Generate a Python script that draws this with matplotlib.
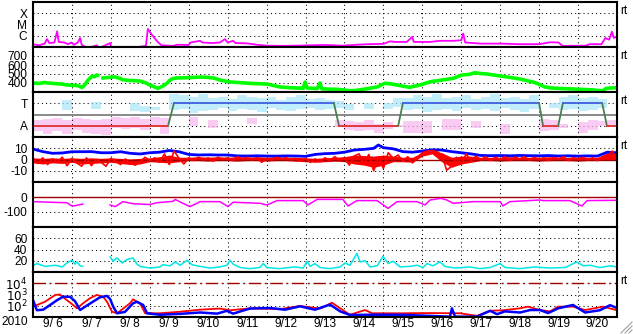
import numpy as np
import matplotlib
matplotlib.use('Agg')
from matplotlib import pyplot as plt
from matplotlib.ticker import NullLocator
from matplotlib.lines import Line2D

plt.rcParams['font.family'] = ['Liberation Sans', 'DejaVu Sans']
plt.rcParams['font.size'] = 8.6

# time axis: days since 2010-09-06 00:00
day_labels = ['9/ 6', '9/ 7', '9/ 8', '9/ 9', '9/10', '9/11', '9/12', '9/13',
              '9/14', '9/15', '9/16', '9/17', '9/18', '9/19', '9/20']

# X-ray flux (log10 W/m2)
xr_t = [0.0, 0.15, 0.3, 0.36, 0.42, 0.55, 0.62, 0.66, 0.8, 0.9, 0.98, 1.05, 1.15, 1.21, 1.25, 1.4,
        1.64, 1.7, 1.98, 2.02, 2.5, 2.9, 2.95, 3.05, 3.19, 3.3, 3.6, 3.7, 4.0, 4.05, 4.29, 4.35,
        4.6, 4.8, 4.93, 5.0, 5.14, 5.2, 5.5, 5.75, 6.0, 6.5, 7.1, 7.5, 7.96, 8.3, 8.6, 9.0, 9.17,
        9.3, 9.6, 9.74, 9.78, 10.2, 10.45, 10.8, 11.0, 11.05, 11.1, 11.5, 12.0, 12.5, 13.0, 13.28,
        13.5, 13.6, 14.2, 14.3, 14.6, 14.7, 14.8, 14.87, 14.92, 15.0]
xr_v = [-6.75, -6.85, -6.7, -6.3, -6.65, -6.6, -5.6, -6.55, -6.6, -6.75, -6.6, -6.8, -6.6, -6.2,
        -6.8, -7.1, -6.85, -7.1, -6.65, -7.1, -7.1, -6.9, -5.4, -5.9, -6.5, -6.85, -6.9, -6.8,
        -6.82, -6.6, -6.45, -6.6, -6.65, -6.6, -6.3, -6.6, -6.45, -6.65, -6.68, -6.8, -6.88, -6.9,
        -6.85, -6.82, -6.88, -6.8, -6.75, -6.72, -6.5, -6.55, -6.55, -6.1, -6.55, -6.55, -6.45,
        -6.45, -6.4, -5.8, -6.6, -6.7, -6.7, -6.75, -6.75, -6.58, -6.6, -6.9, -6.88, -6.75, -6.75,
        -6.2, -6.35, -5.64, -6.2, -6.05]

# solar wind speed (km/s)
spd_t = [0, 0.15, 0.3, 0.44, 0.6, 0.75, 0.87, 1.0, 1.13, 1.2, 1.26, 1.33, 1.41, 1.52, 1.58, 1.64,
         1.66, 1.72, 1.8, 1.95, 2.1, 2.23, 2.31, 2.5, 2.75, 2.9, 3.0, 3.1, 3.21, 3.34, 3.45, 3.52,
         3.6, 3.7, 3.9, 4.1, 4.3, 4.47, 4.65, 4.8, 5.06, 5.3, 5.6, 6.01, 6.2, 6.34, 6.6, 6.94, 6.99,
         7.04, 7.3, 7.37, 7.42, 7.6, 7.81, 8.0, 8.14, 8.3, 8.53, 8.7, 8.84, 9.04, 9.2, 9.35, 9.5,
         9.68, 9.8, 9.94, 10.2, 10.5, 10.79, 11.02, 11.2, 11.35, 11.5, 11.66, 12.0, 12.25, 12.51,
         12.7, 12.9, 13.0, 13.15, 13.3, 13.54, 13.8, 14.05, 14.3, 14.64, 14.72, 14.82, 15.0]
spd_v = [400, 395, 405, 398, 392, 388, 378, 375, 372, 362, 350, 380, 430, 478, 470, 490,
         485, np.nan, 456, 462, 468, 452, 435, 428, 422, 400, 378, 360, 341, 367, 400, 433,
         450, 456, 458, 462, 466, 463, 455, 433, 411, 405, 395, 389, 370, 356, 348, 341, 410,
         345, 338, 400, 335, 332, 330, 322, 314, 318, 333, 345, 356, 397, 390, 378, 365,
         352, 365, 378, 414, 432, 452, 489, 495, 514, 505, 500, 478, 462, 444,
         425, 403, 385, 356, 345, 339, 335, 330, 325, 314, 340, 344, 348]

# IMF sector (A=1, T=3) and angle point clouds per 6-hour bin
sec_t = [0, 3.47, 3.62, 7.73, 7.86, 9.38, 9.5, 13.0, 13.1, 13.49, 13.61, 14.62, 14.74, 15]
sec_v = [1, 1, 3, 3, 1, 1, 3, 3, 1, 1, 3, 3, 1, 1]
nan = np.nan
cloud_t = np.arange(60) * 0.25 + 0.125
blue_lo = [nan, nan, nan, 2.4, nan, nan, 2.5, nan, nan, nan, 2.3, 2.2, 2.4, nan, 2.4,
           2.5, 2.1, 2.3, 2.4, 2.6, 2.3, 2.5, 2.4, 2.2, 2.6, 2.4, 2.3, 2.5, 2.6, 2.4,
           2.5, 2.6, 2.4, nan, 2.5, nan, 2.5, 2.7, 2.4, 2.5, 2.2, 2.4, 2.5, 2.3, 2.6,
           2.4, 2.5, 2.3, 2.6, 2.4, 2.2, 2.5, nan, 2.6, 2.4, 2.5, 2.3, 2.4, 2.6, nan]
blue_hi = [nan, nan, nan, 3.3, nan, nan, 3.1, nan, nan, nan, 3.0, 2.8, 2.7, nan, 3.8,
           3.7, 3.6, 3.8, 3.5, 3.6, 3.4, 3.7, 3.6, 3.5, 3.6, 3.3, 3.6, 3.7, 3.4, 3.5,
           3.3, 3.2, 2.9, nan, 3.0, nan, 3.0, 3.5, 3.5, 3.7, 3.6, 3.8, 3.5, 3.6, 3.7,
           3.4, 3.6, 3.8, 3.5, 3.6, 3.4, 3.7, nan, 3.0, 3.6, 3.7, 3.5, 3.6, 3.4, nan]
pink_lo = [0.5, 0.3, 0.5, 0.3, 0.6, 0.4, 0.3, 0.2, 0.8, 0.7, 0.8, 0.6, 0.9, 0.3, nan,
           nan, 1.0, nan, 0.8, nan, nan, nan, 1.2, nan, nan, nan, nan, nan, nan, nan,
           nan, 0.9, 0.6, 0.5, 0.6, 0.4, 0.7, 0.9, 0.4, 0.4, 0.4, nan, 0.6, 0.6, nan,
           0.8, nan, nan, 0.3, nan, nan, nan, 0.5, 0.6, 0.8, nan, 0.4, 0.6, 1.0, 1.0]
pink_hi = [1.5, 1.6, 1.7, 1.5, 1.7, 1.6, 1.5, 1.6, 1.8, 1.7, 1.8, 1.6, 1.8, 1.7, nan,
           nan, 1.8, nan, 1.5, nan, nan, nan, 1.7, nan, nan, nan, nan, nan, nan, nan,
           nan, 1.5, 1.4, 1.3, 1.5, 1.2, 1.3, 1.1, 1.4, 1.4, 1.4, nan, 1.6, 1.6, nan,
           1.4, nan, nan, 1.2, nan, nan, nan, 1.6, 1.5, 1.2, nan, 1.3, 1.5, 1.4, 1.5]

# IMF Bt and Bz (nT)
bt_t = [0, 0.25, 0.5, 0.75, 1.0, 1.25, 1.5, 1.75, 2.0, 2.25, 2.5, 2.75, 3.0, 3.25, 3.5, 3.75,
        4.0, 4.25, 4.5, 4.75, 5.0, 5.25, 5.5, 5.75, 6.0, 6.25, 6.5, 6.75, 7.0, 7.25, 7.5, 7.75,
        8.0, 8.25, 8.5, 8.75, 8.87, 9.0, 9.25, 9.5, 9.75, 10.0, 10.25, 10.5, 10.75, 11.0, 11.25,
        11.5, 11.75, 12.0, 12.25, 12.5, 12.75, 13.0, 13.25, 13.5, 13.75, 14.0, 14.25, 14.5,
        14.75, 15.0]
bt_v = [9.3, 7.0, 5.5, 5.8, 6.9, 6.9, 7.0, 6.0, 6.0, 6.9, 5.5, 4.9, 6.0, 6.5, 8.0, 6.9,
        4.5, 4.0, 4.2, 4.0, 4.0, 3.2, 3.1, 3.3, 3.1, 3.0, 3.2, 3.1, 2.8, 4.5, 5.2, 5.5,
        6.5, 8.4, 9.0, 9.9, 12.9, 10.5, 9.5, 7.0, 6.5, 7.5, 8.6, 8.4, 7.0, 6.0, 5.0,
        3.6, 3.4, 3.5, 3.3, 3.6, 3.4, 3.3, 3.5, 3.1, 3.3, 3.0, 3.2, 3.1,
        6.5, 6.0]
bzb_t = np.arange(61) * 0.25
bz_lo = [-3, -4, -3, -3.5, -2.5, -4, -3.5, -3, -2.5, -3.5, -4.5, -4, -2, -2.5, -3, -2,
         -1, -1, -1.5, -1, -1, -1.5, -1, -1, -1.5, -1, -1, -1.5, -2, -2.5, -2, -1.5,
         -2, -4, -5, -7, -5, -2, -2, -2.5, 3, 5, -2, -7, -4, -2.5,
         -1, -1, -1.5, -1, -1, -1, -1.5, -1, -1, -1, -1.5, -1, -1, 0, -1]
bz_hi = [1.5, 1, 1.5, 1, 1.5, 1, 1.5, 1, 1.5, 1, 0.5, 1, 1.5, 2.5, 4, 2,
         2, 2.5, 2, 2.5, 2, 2.5, 2, 2.5, 2, 2.5, 2, 2, 1.5, 1, 1.5, 2,
         2.5, 4, 3.5, 3, 4, 3, 2, 2, 6.5, 8, 6, 2, 3, 3,
         2, 2, 2, 2.5, 2, 2, 2, 2.5, 2, 2, 2, 2, 2, 6, 5]
bzs_t = np.arange(121) * 0.125
bzs_v = [1.0, -3.5, 1.5, -4.5, 0.5, -2.5, 2.0, -5.5, 1.0, -3.0, -6.0, 1.5, -5.5, 0.0, -2.5, -6.0,
         1.0, -1.5, -4.5, 0.5, -3.5, -5.0, -2.5, 2.0, -1.0, 1.5, -2.5, 5.0, -4.5, 7.5, 1.0, -4.0,
         1.5, -1.0, 2.0, -0.5, 1.5, -1.5, 2.0, 0.0, 1.5, -1.0, 2.5, 0.5, 2.0, -0.5, 1.5, -2.5,
         1.0, -0.5, 2.0, 0.5, 1.5, -0.5, 1.0, -1.5, 1.0, -2.5, 0.5, -2.0, 1.5, -1.0, 2.5, -0.5,
         1.5, -5.0, 3.0, 5.0, -4.0, 4.5, -10.0, 2.0, -8.0, 6.0, 1.0, 4.0, -1.5, 2.5, -3.0, 1.5,
         6.0, 7.5, 8.0, 7.0, 4.0, -9.5, -6.0, 2.0, -4.0, 5.0, -1.5, 3.0, -0.5, 2.5, -1.0, 2.0,
         0.0, 2.5, -1.0, 2.0, 0.5, 2.5, -0.5, 2.0, 0.0, 1.5, -1.0, 2.0, 0.5, 2.5, -1.0, 1.5,
         0.5, 2.0, -0.5, 1.5, -1.0, 2.0, 3.0, 7.5, 1.0]

# Dst (nT)
dst_t = [0, 0.26, 0.57, 0.87, 1.0, 1.08, 1.28, 1.5, 1.98, 2.11, 2.31, 2.57, 3.0, 3.19, 3.6,
         3.65, 3.85, 4.03, 4.21, 4.29, 4.8, 5.01, 5.14, 5.83, 6.01, 6.27, 6.94, 7.06, 7.3, 7.96,
         8.09, 8.32, 8.84, 9.12, 9.35, 9.86, 10.07, 10.2, 10.48, 10.63, 10.79, 11.3, 12.0,
         12.07, 12.25, 13.02, 13.1, 13.79, 14.1, 14.23, 15.0]
dst_v = [-31, -33, -36, -38, -60, -58, -47, nan, -53, -64, -31, -45, -50, -38, -29,
         -16, -42, -64, -42, -31, -31, -64, -35, -42, -53, -24, -24, -53, -16, -16,
         -60, -24, -24, -76, -31, -31, -53, -20, -9, -20, -42, -31, -31,
         -60, -31, -20, -24, -24, -60, -24, -22]

# cyan index panel
cy_t = [0, 0.1, 0.31, 0.57, 0.75, 0.87, 1.0, 1.08, 1.13, 1.21, 1.28, 1.5, 1.98, 2.06, 2.16,
        2.29, 2.41, 2.57, 2.67, 2.75, 3.0, 3.26, 3.34, 3.52, 3.65, 3.78, 3.96, 4.08, 4.29,
        4.55, 4.8, 4.98, 5.06, 5.14, 5.32, 5.57, 5.83, 5.91, 6.01, 6.34, 6.72, 6.94, 7.04,
        7.12, 7.24, 7.37, 7.63, 7.89, 8.01, 8.14, 8.32, 8.4, 8.53, 8.66, 8.84, 8.99, 9.12,
        9.25, 9.43, 9.68, 9.86, 10.02, 10.12, 10.27, 10.45, 10.58, 10.84, 11.22, 11.48,
        11.74, 12.0, 12.12, 12.51, 12.9, 13.28, 13.67, 13.97, 14.13, 14.31, 14.56, 14.82, 15.0]
cy_v = [11, 15, 10, 12, 9, 16, 21, 14, 18, 11, 10, nan, 27, 19, 25,
        16, 22, 25, 14, 10, 7, 9, 13, 11, 18, 12, 21, 13, 10,
        7, 9, 12, 21, 14, 8, 6, 8, 15, 8, 6, 9, 7, 19,
        10, 15, 8, 6, 9, 16, 12, 33, 18, 20, 9, 11, 28, 15,
        19, 9, 10, 12, 8, 15, 11, 18, 10, 7, 9, 6,
        8, 15, 8, 6, 9, 7, 8, 18, 11, 12, 8, 11, 9]

# electron flux (log10)
eb_t = [0, 0.1, 0.26, 0.44, 0.62, 0.77, 0.95, 1.08, 1.21, 1.34, 1.54, 1.72, 1.9, 1.98, 2.06,
        2.16, 2.36, 2.57, 2.67, 2.83, 2.93, 3.26, 3.78, 4.29, 4.73, 4.98, 5.14, 5.57, 6.09,
        6.47, 6.86, 7.24, 7.63, 7.89, 8.14, 8.66, 9.43, 10.2, 10.71, 10.76, 10.84, 11.4,
        11.74, 11.92, 12.12, 12.51, 12.77, 13.02, 13.23, 13.49, 13.87, 14.18, 14.56, 14.82, 15.0]
eb_v = [2.5, 1.6, 1.65, 2.07, 2.5, 2.8, 2.8, 2.4, 1.62, 1.92, 2.36, 2.75, 2.87, 2.6, 1.92,
        1.33, 1.45, 2.22, 2.35, 2.07, 1.33, 1.2, 1.28, 1.4, 1.3, 1.55, 1.3, 1.75, 1.8,
        1.65, 1.95, 1.65, 2.1, 1.5, 1.18, 1.2, 1.2, 1.1, 1.03, 1.77, 1.03, 1.03,
        1.55, 1.25, 1.5, 1.4, 1.62, 1.62, 1.35, 1.77, 2.07, 1.4, 1.6, 2.05, 1.8]
er_t = [0, 0.31, 0.57, 0.69, 0.87, 1.03, 1.13, 1.28, 1.46, 1.64, 1.8, 1.9, 2.03, 2.16, 2.49,
        2.57, 2.75, 2.88, 3.26, 3.78, 4.29, 4.8, 5.06, 5.57, 6.34, 6.86, 7.37, 7.68, 7.89,
        8.14, 8.53, 8.71, 9.43, 10.2, 10.97, 11.4, 11.74, 12.07, 12.51, 12.71, 13.02, 13.28,
        13.49, 13.87, 14.18, 14.64, 15.0]
er_v = [1.92, 2.36, 2.96, 3.0, 2.5, 2.07, 1.77, 2.2, 2.66, 2.96, 2.8, 2.36, 1.47, 1.33, 2.22,
        2.57, 2.2, 1.33, 1.33, 1.47, 1.65, 1.75, 1.6, 1.77, 1.7, 1.98, 1.75, 2.27, 1.77,
        1.2, 1.62, 1.33, 1.33, 1.35, 1.33, 1.1, 1.55, 1.6, 1.77, 1.92, 1.62, 1.5,
        1.92, 1.92, 1.62, 1.92, 1.6]

W, H = 633, 334
fig = plt.figure(figsize=(W / 100, H / 100), dpi=100)
fig.patch.set_facecolor('white')

dot = (0, (1, 3))
axes = []
for i in range(7):
    top = 2 + 45 * i
    ax = fig.add_axes([33 / W, 1 - (top + 45) / H, 584 / W, 45 / H])
    ax.set_xlim(0, 15)
    ax.set_xticks(np.arange(15) + 0.5)
    ax.set_xticks(np.arange(1, 15), minor=True)
    ax.grid(True, which='minor', axis='x', color='black', lw=0.75, ls=dot)
    ax.tick_params(which='both', length=0, pad=4, labelbottom=(i == 6))
    for s in ax.spines.values():
        s.set_linewidth(1.5)
    axes.append(ax)

def ygrid(ax, levels):
    for v in levels:
        ax.axhline(v, color='black', lw=0.75, ls=dot, zorder=0.5)

# 1: X-ray
ax = axes[0]
ax.set_yscale('log')
ax.set_ylim(1e-7, 1e-3)
ax.yaxis.set_minor_locator(NullLocator())
ax.set_yticks([1e-6, 1e-5, 1e-4], ['C', 'M', 'X'])
ygrid(ax, [1e-6, 1e-5, 1e-4])
ax.plot(xr_t, 10 ** np.array(xr_v), color='#ff00ff', lw=1.3)

# 2: speed
ax = axes[1]
ax.set_ylim(300, 800)
ax.set_yticks([400, 500, 600, 700])
ygrid(ax, [400, 500, 600, 700])
ax.plot(spd_t, spd_v, color='#00ff00', lw=2.6)

# 3: sector
ax = axes[2]
ax.set_ylim(0, 4)
ax.set_yticks([1, 3], ['A', 'T'])
ygrid(ax, [1, 3])
ax.bar(cloud_t, np.array(blue_hi) - np.array(blue_lo), bottom=blue_lo, width=0.25,
       color='#a8e6fa', alpha=0.7, lw=0)
ax.bar(cloud_t, np.array(pink_hi) - np.array(pink_lo), bottom=pink_lo, width=0.25,
       color='#f8b6ee', alpha=0.7, lw=0)
ax.axhline(2, color='#808080', lw=1.3)
for k in range(len(sec_t) - 1):
    if sec_v[k] != sec_v[k + 1]:
        c = '#4a8050'
    elif sec_v[k] == 3:
        c = '#4060e0'
    else:
        c = '#e03030'
    ax.plot(sec_t[k:k + 2], sec_v[k:k + 2], color=c, lw=1.3)

# 4: Bt / Bz
ax = axes[3]
ax.set_ylim(-20, 20)
ax.set_yticks([-10, 0, 10], ['-10', '0', '10'])
ygrid(ax, [-10, 10])
ax.axhline(0, color='#a00000', lw=1.0)
ax.plot(bt_t, bt_v, color='#0000ff', lw=2)
ax.fill_between(bzb_t, bz_lo, bz_hi, color='#ff0000', lw=0)
ax.plot(bzs_t, bzs_v, color='#ff0000', lw=1.2)

# 5: Dst
ax = axes[4]
ax.set_ylim(-200, 100)
ax.set_yticks([-100, 0], ['-100', '0'])
ygrid(ax, [-100])
ax.axhline(0, color='#a00000', lw=1.0)
ax.plot(dst_t, dst_v, color='#ff00ff', lw=1.1)

# 6: cyan index
ax = axes[5]
ax.set_ylim(0, 80)
ax.set_yticks([20, 40, 60])
ygrid(ax, [20, 40, 60])
ax.plot(cy_t, cy_v, color='#00e8e8', lw=1.1)

# 7: electrons
ax = axes[6]
ax.set_yscale('log')
ax.set_ylim(10, 1e5)
ax.yaxis.set_minor_locator(NullLocator())
ax.set_yticks([1e2, 1e3, 1e4], ['$10^2$', '$10^3$', '$10^4$'])
ygrid(ax, [1e2, 1e3])
ax.axhline(1e4, color='#a00000', lw=1.0, dashes=(9, 2.5, 1.5, 2.5))
ax.plot(er_t, 10 ** np.array(er_v), color='#ff0000', lw=1.3)
ax.plot(eb_t, 10 ** np.array(eb_v), color='#0000ff', lw=1.8)
ax.set_xticklabels(day_labels)
ax.tick_params(axis='x', pad=1)

for i in [0, 1, 2, 3, 6]:
    axes[i].text(1.006, 0.8, 'rt', transform=axes[i].transAxes, va='center', ha='left')

fig.text(1 / W, 1 - 322 / H, '2010', va='center', ha='left')

# resize grip in the corner
for d in [4, 8, 12]:
    fig.add_artist(Line2D([(W - d) / W, (W - 1) / W], [1 / H, d / H], color='#a0a0a0', lw=0.8))

fig.savefig('out.png', dpi=100, facecolor='white')
